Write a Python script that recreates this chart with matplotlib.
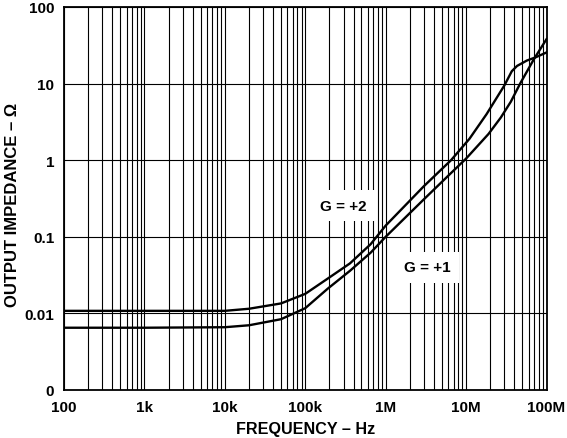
import matplotlib
matplotlib.use("Agg")
import matplotlib.pyplot as plt
from matplotlib.ticker import FixedLocator, NullFormatter, LogLocator

plt.rcParams['font.family'] = ['Liberation Sans', 'DejaVu Sans']
plt.rcParams['font.weight'] = 'bold'

freq_g2 = [100, 1e3, 1e4, 2e4, 5e4, 1e5, 2e5, 3.6e5, 6.5e5, 1e6, 3e6, 6.5e6, 1.1e7, 1.8e7, 3e7, 3.7e7, 4.3e7, 5.7e7, 7.3e7, 1e8]
z_g2 = [0.0108, 0.0108, 0.0108, 0.0115, 0.0135, 0.018, 0.0295, 0.045, 0.08, 0.14, 0.46, 1.0, 1.9, 4.0, 9.5, 14.5, 17, 20, 22, 25.5]

freq_g1 = [100, 1e3, 1e4, 2e4, 5e4, 1e5, 1.9e5, 3.6e5, 6.5e5, 1e6, 3e6, 6.5e6, 1e7, 1.9e7, 2.7e7, 3.6e7, 4.7e7, 7e7, 1e8]
z_g1 = [0.0065, 0.0065, 0.0066, 0.0070, 0.0084, 0.0117, 0.021, 0.036, 0.062, 0.1, 0.31, 0.68, 1.05, 2.2, 3.6, 5.8, 10, 21, 38]

x_ticks = [1e2, 1e3, 1e4, 1e5, 1e6, 1e7, 1e8]
x_labels = ['100', '1k', '10k', '100k', '1M', '10M', '100M']
y_ticks = [1e-3, 1e-2, 1e-1, 1, 10, 100]
y_labels = ['0', '0.01', '0.1', '1', '10', '100']

W, H = 567, 439
fig = plt.figure(figsize=(W / 100, H / 100), dpi=100)
ax = fig.add_axes([64 / W, 1 - 391 / H, (546.5 - 64) / W, (391 - 8) / H])
ax.set_xscale('log')
ax.set_yscale('log')
ax.set_xlim(1e2, 1e8)
ax.set_ylim(1e-3, 100)

ax.xaxis.set_major_locator(FixedLocator(x_ticks))
ax.set_xticklabels(x_labels)
ax.xaxis.set_minor_locator(LogLocator(base=10, subs=range(2, 10), numticks=100))
ax.xaxis.set_minor_formatter(NullFormatter())
ax.yaxis.set_major_locator(FixedLocator(y_ticks))
ax.set_yticklabels(y_labels)
ax.yaxis.set_minor_locator(FixedLocator([]))

ax.grid(True, which='major', color='black', linewidth=0.8)
ax.grid(True, which='minor', axis='x', color='black', linewidth=0.8)
ax.tick_params(which='both', length=0, labelsize=11, pad=7)
for s in ax.spines.values():
    s.set_linewidth(1.3)

ax.plot(freq_g2, z_g2, color='black', linewidth=1.7, zorder=3)
ax.plot(freq_g1, z_g1, color='black', linewidth=1.7, zorder=3)

box = dict(facecolor='white', edgecolor='none', pad=6)
ax.text(3.0e5, 0.255, 'G = +2', fontsize=11, fontweight='bold', ha='center', va='center', bbox=box, zorder=4)
ax.text(3.27e6, 0.04, 'G = +1', fontsize=11, fontweight='bold', ha='center', va='center', bbox=box, zorder=4)

ax.set_xlabel('FREQUENCY – Hz', fontsize=11.6, fontweight='bold', labelpad=5)
fig.text(12.5 / W, 1 - 205 / H, 'OUTPUT IMPEDANCE – Ω', fontsize=12, fontweight='bold',
         rotation=90, ha='center', va='center')

fig.savefig('out.png', dpi=100)
